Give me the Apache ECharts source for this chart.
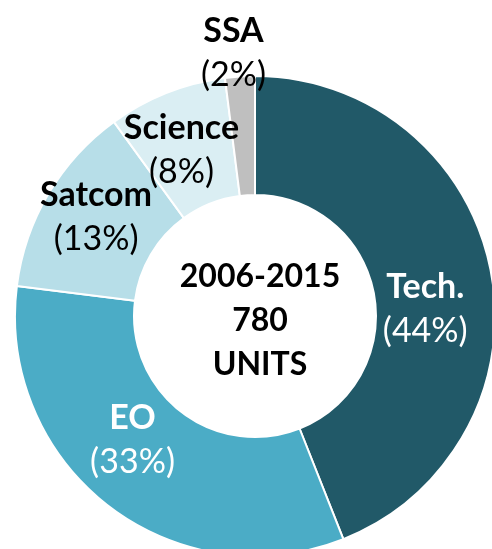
<!DOCTYPE html>
<html>
<head>
<meta charset="utf-8">
<script src="https://cdn.jsdelivr.net/npm/echarts@6/dist/echarts.min.js"></script>
<style>
  html, body { margin: 0; padding: 0; background: #fff; }
  #chart { width: 492px; height: 549px; }
</style>
</head>
<body>
<div id="chart"></div>
<script>
const categories = ['Tech.', 'EO', 'Satcom', 'Science', 'SSA']
const shares = [44, 33, 13, 8, 2]
const centerLines = ['2006-2015', '780', 'UNITS']

const colors = ['#215968', '#4bacc6', '#b7dee8', '#daeef3', '#bfbfbf']
const labelColors = ['#fff', '#fff', '#000', '#000', '#000']
// small nudges so labels sit where the original put them
const labelShift = [[-10, 27], [-10, -21], [-1, -6], [-6, 5], [-10, -80]]

const chart = echarts.init(document.getElementById('chart'))

chart.setOption({
  animation: false,
  graphic: [{
    type: 'text',
    x: 260,
    y: 321,
    style: {
      text: centerLines.join('\n'),
      align: 'center',
      verticalAlign: 'middle',
      font: 'bold 32px Lato',
      lineHeight: 44,
      fill: '#000'
    }
  }],
  series: [{
    type: 'pie',
    center: [255, 316],
    radius: [121, 240],
    startAngle: 90,
    clockwise: true,
    avoidLabelOverlap: false,
    itemStyle: { borderColor: '#fff', borderWidth: 2 },
    label: {
      position: 'inside',
      formatter: '{n|{b}}\n{p|({c}%)}',
      rich: {
        n: { fontFamily: 'Lato', fontWeight: 'bold', fontSize: 34, lineHeight: 44 },
        p: { fontFamily: 'Lato', fontWeight: 'normal', fontSize: 34, lineHeight: 44 }
      }
    },
    labelLine: { show: false },
    labelLayout: function (params) {
      const s = labelShift[params.dataIndex]
      return { dx: s[0], dy: s[1] }
    },
    data: categories.map(function (name, i) {
      return {
        name: name,
        value: shares[i],
        itemStyle: { color: colors[i] },
        label: {
          color: labelColors[i],
          rich: {
            n: { color: labelColors[i] },
            p: { color: labelColors[i] }
          }
        }
      }
    })
  }]
})
</script>
</body>
</html>
